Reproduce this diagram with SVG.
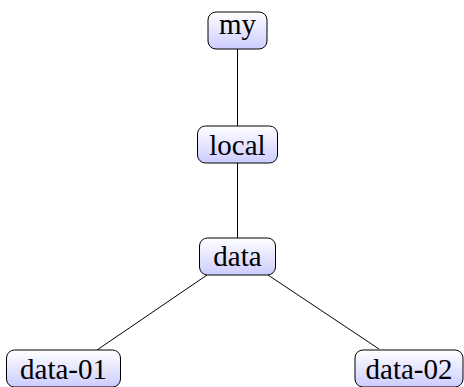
<svg xmlns="http://www.w3.org/2000/svg" width="464" height="387" viewBox="0 0 464 387">
<defs>
<linearGradient id="g" x1="0" y1="0" x2="0" y2="1">
<stop offset="0" stop-color="#ffffff"/>
<stop offset="1" stop-color="#ccccff"/>
</linearGradient>
</defs>
<style>
.box{fill:url(#g);stroke:#000;stroke-width:1}
.t{font-family:"Liberation Serif","DejaVu Serif",serif;font-size:29px;fill:#000;text-anchor:middle}
.e{stroke:#000;stroke-width:1;fill:none}
</style>
<rect width="464" height="387" fill="#fff"/>
<g id="connectors">
<line class="e" x1="237.5" y1="49" x2="237.5" y2="126"/>
<line class="e" x1="237.5" y1="163" x2="237.5" y2="238"/>
<line class="e" x1="207" y1="275" x2="97" y2="350"/>
<line class="e" x1="268" y1="275" x2="379" y2="349"/>
</g>
<g id="my">
<rect class="box" x="208" y="12" width="59" height="37" rx="8"/>
<text class="t" x="237.5" y="34">my</text>
</g>
<g id="local">
<rect class="box" x="197.5" y="126" width="80" height="37" rx="8"/>
<text class="t" x="237.5" y="154.5">local</text>
</g>
<g id="data">
<rect class="box" x="199.5" y="238" width="76" height="37" rx="8"/>
<text class="t" x="237.5" y="266">data</text>
</g>
<g id="data-01">
<rect class="box" x="6.5" y="350" width="114" height="37" rx="8"/>
<text class="t" x="63.5" y="378.5">data-01</text>
</g>
<g id="data-02">
<rect class="box" x="355" y="350" width="108" height="37" rx="8"/>
<text class="t" x="409" y="378.5">data-02</text>
</g>
</svg>
